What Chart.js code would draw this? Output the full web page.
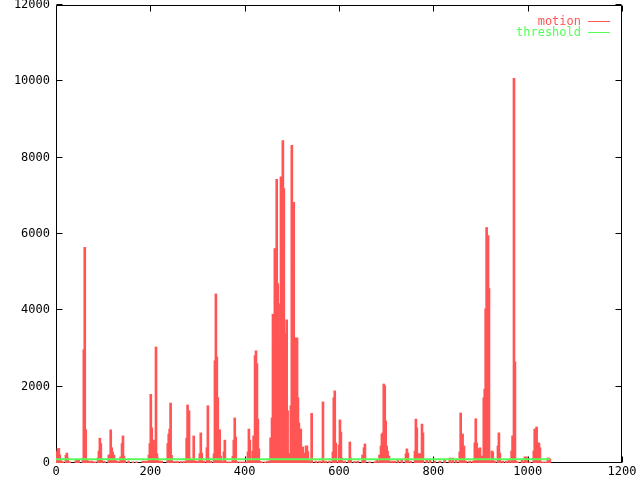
<!DOCTYPE html>
<html>
<head>
<meta charset="utf-8">
<title>motion</title>
<script src="https://cdn.jsdelivr.net/npm/chart.js@4.4.1/dist/chart.umd.min.js"></script>
<style>
  html, body { margin: 0; padding: 0; background: #fff; }
  canvas { display: block; }
</style>
</head>
<body>
<canvas id="motionChart" width="640" height="480"></canvas>
<script>
// frame numbers and motion values (impulses)
const motionFrames = [
  2, 4, 6, 8, 10, 12, 14, 21, 23, 25, 29, 42, 44, 46, 48,
  57, 59, 61, 63, 65, 67, 72, 76, 82, 89, 91, 93, 95, 97, 103,
  112, 114, 116, 118, 120, 123, 125, 127, 131, 137, 140, 142, 144, 146, 154, 163, 171, 184, 188, 193,
  197, 199, 201, 203, 205, 207, 209, 212, 214, 216, 220, 224, 237, 239, 241, 243, 245, 248, 254, 258, 265, 271,
  277, 279, 282, 284, 288, 292, 296, 301, 305, 307, 309, 313, 320, 322, 324, 328,
  335, 337, 339, 341, 343, 345, 347, 349, 352, 356, 358, 360, 366, 371, 375, 377, 379, 381, 383, 390, 396, 402, 407, 409, 411, 413,
  417, 419, 422, 424, 426, 428, 430, 432, 436, 443, 449, 453,
  455, 458, 460, 462, 464, 466, 468, 470, 472, 475, 477, 479, 481, 483, 485, 487, 489, 491, 494, 496,
  498, 500, 502, 504, 506, 508, 511, 513, 515, 517, 519, 521, 523, 525, 528, 530, 532, 534, 536,
  542, 551, 559, 566, 572, 580, 587, 589, 591, 593, 600, 602, 604, 606, 612,
  621, 623, 625, 633, 640, 650, 653, 655, 665, 676, 680, 686, 689, 691, 693, 695, 697, 699, 701, 703, 706, 712,
  718, 725, 733, 742, 744, 746, 752, 761, 763, 765, 767, 769, 771, 773, 776, 778, 786, 793,
  803, 814, 824, 835, 841, 848, 856, 858, 860, 862, 865, 869, 877, 884, 888, 890, 892, 894, 896, 899, 903, 905,
  907, 909, 911, 913, 916, 918, 920, 924, 926, 930, 937, 939, 941, 947, 954, 960, 966, 968, 971, 973, 975, 979,
  988, 994, 998, 1004, 1013, 1015, 1017, 1019, 1021, 1024, 1026, 1032, 1038, 1043, 1045, 1047
];
const motionValues = [
  300, 370, 380, 210, 60, 40, 30, 200, 260, 130, 30, 60, 80, 50, 80,
  120, 2970, 5650, 870, 80, 60, 50, 50, 30, 130, 310, 650, 510, 100, 40,
  210, 210, 870, 400, 290, 210, 100, 60, 40, 160, 510, 710, 180, 60, 50, 30, 30, 50, 50, 50,
  210, 510, 1800, 920, 550, 600, 350, 3040, 240, 130, 50, 50, 510, 760, 890, 1570, 200, 40, 40, 40, 40, 40,
  650, 1520, 1370, 130, 80, 710, 50, 50, 240, 790, 260, 50, 400, 1500, 130, 50,
  240, 2680, 4430, 2780, 1710, 300, 870, 180, 40, 290, 600, 40, 30, 30, 180, 600, 1180, 680, 40, 30, 30, 30, 290, 890, 600, 40,
  315, 710, 2810, 2940, 2600, 1150, 370, 40, 30, 30, 50, 50,
  660, 1180, 3900, 3250, 5620, 4780, 7430, 4700, 4170, 3200, 7500, 3000, 8450, 7190, 3020, 3390, 3750, 1370, 240, 240,
  1500, 8320, 5090, 6830, 3280, 2800, 3280, 1710, 1050, 500, 890, 180, 420, 210, 260, 445, 445, 300, 100,
  1300, 50, 50, 1600, 50, 50, 290, 1710, 1890, 525, 470, 1130, 810, 130, 50,
  80, 550, 130, 40, 50, 210, 400, 500, 30, 30, 80, 210, 445, 760, 790, 2070, 2020, 1100, 445, 315, 180, 50,
  50, 100, 100, 240, 370, 260, 50, 315, 1150, 920, 240, 240, 240, 240, 1020, 790, 100, 100,
  50, 50, 80, 130, 130, 100, 290, 1310, 500, 760, 445, 50, 50, 50, 525, 1160, 525, 370, 370, 400, 180, 180,
  1710, 1940, 4040, 6170, 5960, 4570, 50, 315, 290, 50, 445, 790, 260, 50, 50, 80, 315, 710, 10080, 2650, 50, 30,
  80, 160, 160, 30, 315, 890, 525, 945, 525, 525, 400, 30, 30, 130, 130, 100
];

// threshold line
const thresholdFrames = [0, 1047];
const thresholdValues = [100, 100];

// axis ticks
const xTicks = [0, 200, 400, 600, 800, 1000, 1200];
const yTicks = [0, 2000, 4000, 6000, 8000, 10000, 12000];

const RED = '#ff5555';
const GREEN = '#55ff55';
const FONT = '12px "DejaVu Sans Mono", "Liberation Mono", monospace';

// gnuplot style frame, inward ticks, tick labels and key
const gnuplotFrame = {
  id: 'gnuplotFrame',
  beforeDatasetsDraw(chart) {
    const ctx = chart.ctx;
    const a = chart.chartArea;
    const xs = chart.scales.x;
    const ys = chart.scales.y;
    const left = a.left + 0.5, right = a.right - 0.5;
    const top = a.top + 0.5, bottom = a.bottom - 0.5;
    ctx.save();
    ctx.strokeStyle = '#000';
    ctx.lineWidth = 1;
    ctx.beginPath();
    ctx.rect(left, top, right - left, bottom - top);
    // y ticks on both sides
    yTicks.forEach(v => {
      const y = Math.round(ys.getPixelForValue(v)) - 0.5;
      ctx.moveTo(left, y); ctx.lineTo(left + 6, y);
      ctx.moveTo(right, y); ctx.lineTo(right - 6, y);
    });
    // x ticks on bottom and top
    xTicks.forEach(v => {
      const x = Math.round(xs.getPixelForValue(v)) + 0.5;
      ctx.moveTo(x, bottom); ctx.lineTo(x, bottom - 6);
      ctx.moveTo(x, top); ctx.lineTo(x, top + 6);
    });
    ctx.stroke();

    ctx.fillStyle = '#000';
    ctx.font = FONT;
    ctx.textBaseline = 'middle';
    ctx.textAlign = 'right';
    yTicks.forEach(v => {
      ctx.fillText(String(v), a.left - 6, ys.getPixelForValue(v));
    });
    ctx.textAlign = 'center';
    xTicks.forEach(v => {
      ctx.fillText(String(v), xs.getPixelForValue(v), a.bottom + 9);
    });

    // key
    const keys = [['motion', RED, 21.5], ['threshold', GREEN, 32.5]];
    ctx.textAlign = 'right';
    keys.forEach(([label, color, y]) => {
      ctx.fillStyle = color;
      ctx.fillText(label, 581, y);
      ctx.strokeStyle = color;
      ctx.beginPath();
      ctx.moveTo(588, y);
      ctx.lineTo(610, y);
      ctx.stroke();
    });
    ctx.restore();
  }
};

const motionData = motionFrames.map((f, i) => ({ x: f, y: motionValues[i] }));
const thresholdData = thresholdFrames.map((f, i) => ({ x: f, y: thresholdValues[i] }));

const ctx = document.getElementById('motionChart').getContext('2d');
new Chart(ctx, {
  type: 'bar',
  data: {
    datasets: [{
      type: 'line',
      label: 'threshold',
      data: thresholdData,
      borderColor: GREEN,
      borderWidth: 2,
      pointRadius: 0,
      fill: false,
      order: 0
    },
    {
      label: 'motion',
      data: motionData,
      backgroundColor: RED,
      borderWidth: 0,
      barThickness: 2,
      order: 1
    }]
  },
  options: {
    responsive: false,
    animation: false,
    events: [],
    layout: { padding: { left: 56, right: 18, top: 5, bottom: 17 } },
    plugins: {
      legend: { display: false },
      tooltip: { enabled: false }
    },
    scales: {
      x: { type: 'linear', min: 0, max: 1200, display: false, offset: false },
      y: { type: 'linear', min: 0, max: 12000, display: false }
    }
  },
  plugins: [gnuplotFrame]
});
</script>
</body>
</html>
